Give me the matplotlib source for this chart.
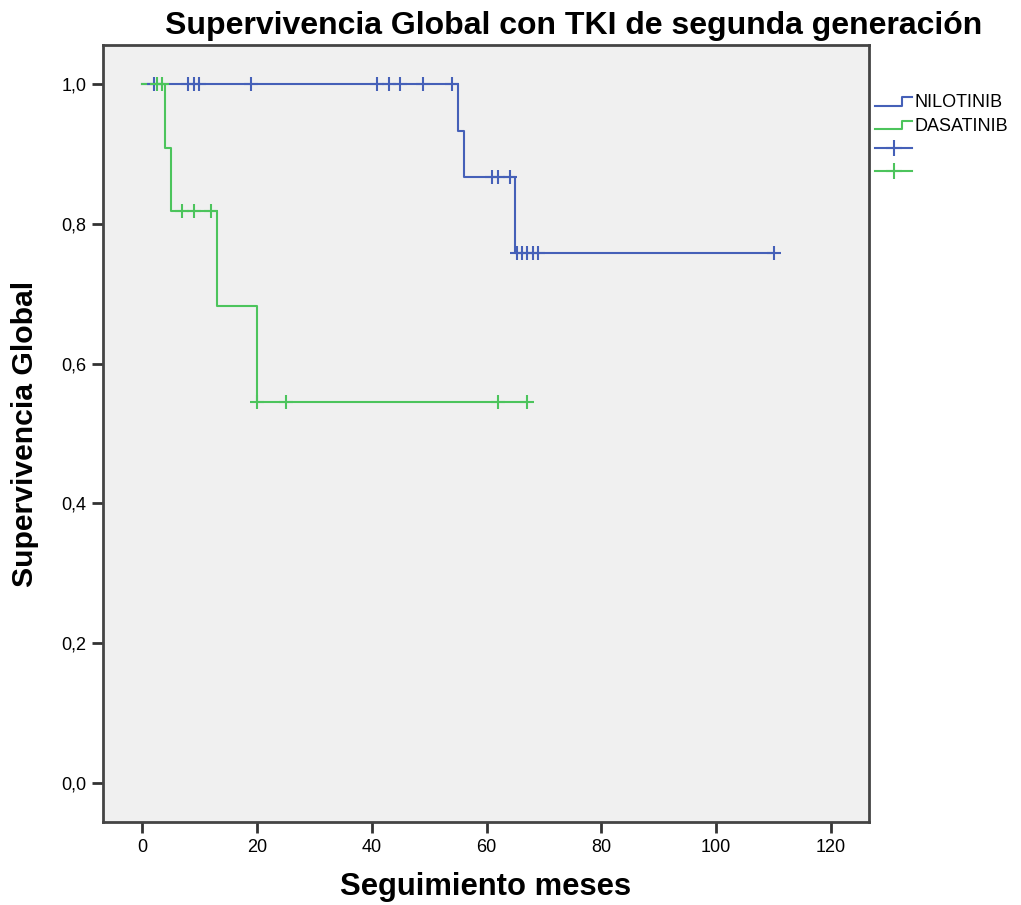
import numpy as np
import matplotlib
matplotlib.use("Agg")
import matplotlib.pyplot as plt
from matplotlib.lines import Line2D
from matplotlib.legend_handler import HandlerBase

# step curves (time in months, survival)
nilo_t = [0, 55, 56, 65, 110]
nilo_s = [1.0, 0.933, 0.867, 0.758, 0.758]
nilo_cens = [2, 8, 9, 10, 19, 41, 43, 45, 49, 54, 61, 62, 64, 65.3, 66.2, 67.1, 68, 69, 110]

dasa_t = [0, 4, 5, 13, 20, 67]
dasa_s = [1.0, 0.909, 0.818, 0.682, 0.545, 0.545]
dasa_cens = [2.6, 3.4, 7, 9, 12, 20, 25, 62, 67]

labels = ["NILOTINIB", "DASATINIB"]
colors = ["#4560b8", "#4cc45c"]
xticks = [0, 20, 40, 60, 80, 100, 120]
yticks = [0.0, 0.2, 0.4, 0.6, 0.8, 1.0]

font = "Liberation Sans"


def surv_at(t, times, surv):
    idx = np.searchsorted(times, t, side="right") - 1
    return np.array(surv)[idx]


class StepHandler(HandlerBase):
    def create_artists(self, legend, orig, xd, yd, w, h, fontsize, trans):
        xs = [xd, xd + w * 0.72, xd + w * 0.72, xd + w]
        ys = [yd + h * 0.1, yd + h * 0.1, yd + h * 0.8, yd + h * 0.8]
        ln = Line2D(xs, ys, color=orig.get_color(), lw=1.5, transform=trans)
        return [ln]


fig = plt.figure(figsize=(10.21, 9.05), dpi=100)
ax = fig.add_axes([0.1009, 0.0917, 0.7502, 0.8586])
ax.set_facecolor("#f0f0f0")

handles = []
for t, s, col, lab in [(nilo_t, nilo_s, colors[0], labels[0]),
                       (dasa_t, dasa_s, colors[1], labels[1])]:
    ln, = ax.step(t, s, where="post", color=col, lw=1.5, label=lab)
    handles.append(ln)
for t, s, c, col in [(nilo_t, nilo_s, nilo_cens, colors[0]),
                     (dasa_t, dasa_s, dasa_cens, colors[1])]:
    ax.plot(c, surv_at(c, t, s), linestyle="none", marker="+",
            markersize=10, markeredgewidth=1.5, color=col)
    # legend proxy: censor mark on a short line
    handles.append(Line2D([], [], color=col, lw=1.5, marker="+",
                          markersize=12, markeredgewidth=1.5))

ax.set_xlim(-6.8, 126.6)
ax.set_ylim(-0.056, 1.056)
ax.set_xticks(xticks)
ax.set_yticks(yticks)
ax.set_yticklabels([f"{v:.1f}".replace(".", ",") for v in yticks])
for lab in ax.get_xticklabels() + ax.get_yticklabels():
    lab.set_fontfamily(font)
    lab.set_fontsize(13)
ax.tick_params(length=8, width=2, color="#333333", pad=4)
for sp in ax.spines.values():
    sp.set_linewidth(2)
    sp.set_color("#444444")

ax.set_xlabel("Seguimiento meses", fontfamily=font, fontweight="bold", fontsize=22.3, labelpad=12)
ax.set_ylabel("Supervivencia Global", fontfamily=font, fontweight="bold", fontsize=21.7, labelpad=16)
ax.set_title("Supervivencia Global con TKI de segunda generación", fontfamily=font,
             fontweight="bold", fontsize=23, pad=8, x=0.614)

fig.legend(handles, labels + ["", ""], loc="upper left", bbox_to_anchor=(0.857, 0.896),
           frameon=False, handler_map={handles[0]: StepHandler(), handles[1]: StepHandler()},
           prop={"family": font, "size": 13}, handlelength=2.05, handletextpad=0.12,
           labelspacing=0.36, borderpad=0, borderaxespad=0)

fig.savefig("out.png", dpi=100)
